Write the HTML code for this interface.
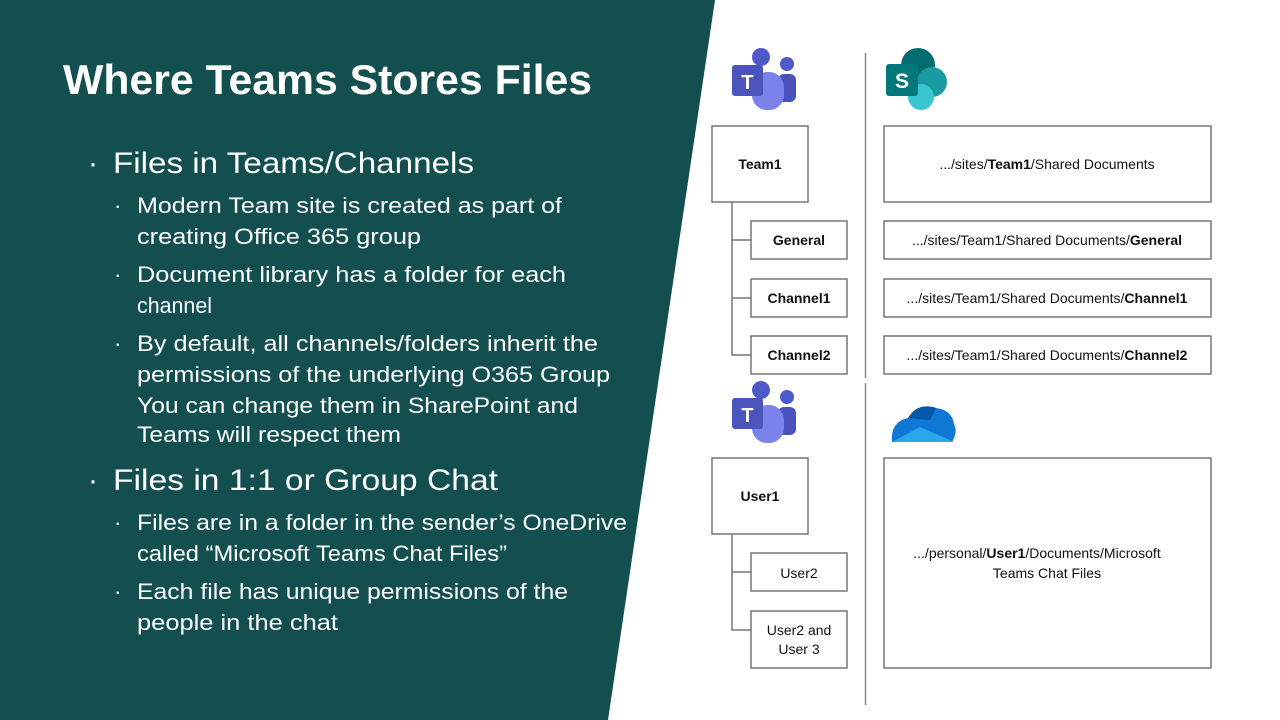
<!DOCTYPE html>
<html><head><meta charset="utf-8"><style>html,body{margin:0;padding:0;background:#fff}svg{display:block}</style></head><body>
<svg width="1280" height="720" viewBox="0 0 1280 720" xmlns="http://www.w3.org/2000/svg" font-family="Liberation Sans, sans-serif">
<rect width="1280" height="720" fill="#fff"/>
<polygon points="0,0 715,0 608,720 0,720" fill="#134f4f"/>
<g fill="#fff">
<text x="63" y="94" font-size="42" font-weight="bold" textLength="529" lengthAdjust="spacingAndGlyphs">Where Teams Stores Files</text>
<text x="88" y="173" font-size="30">·</text>
<text x="113" y="173" font-size="30" textLength="361" lengthAdjust="spacingAndGlyphs">Files in Teams/Channels</text>
<g font-size="22">
<text x="114" y="213">·</text>
<text x="137" y="213" textLength="425" lengthAdjust="spacingAndGlyphs">Modern Team site is created as part of</text>
<text x="137" y="244" textLength="284" lengthAdjust="spacingAndGlyphs">creating Office 365 group</text>
<text x="114" y="282">·</text>
<text x="137" y="282" textLength="429" lengthAdjust="spacingAndGlyphs">Document library has a folder for each</text>
<text x="137" y="313" textLength="75" lengthAdjust="spacingAndGlyphs">channel</text>
<text x="114" y="351">·</text>
<text x="137" y="351" textLength="461" lengthAdjust="spacingAndGlyphs">By default, all channels/folders inherit the</text>
<text x="137" y="382" textLength="473" lengthAdjust="spacingAndGlyphs">permissions of the underlying O365 Group</text>
<text x="137" y="413" textLength="441" lengthAdjust="spacingAndGlyphs">You can change them in SharePoint and</text>
<text x="137" y="442" textLength="264" lengthAdjust="spacingAndGlyphs">Teams will respect them</text>
</g>
<text x="88" y="490" font-size="30">·</text>
<text x="113" y="490" font-size="30" textLength="385" lengthAdjust="spacingAndGlyphs">Files in 1:1 or Group Chat</text>
<g font-size="22">
<text x="114" y="530">·</text>
<text x="137" y="530" textLength="490" lengthAdjust="spacingAndGlyphs">Files are in a folder in the sender’s OneDrive</text>
<text x="137" y="561" textLength="370" lengthAdjust="spacingAndGlyphs">called “Microsoft Teams Chat Files”</text>
<text x="114" y="599">·</text>
<text x="137" y="599" textLength="431" lengthAdjust="spacingAndGlyphs">Each file has unique permissions of the</text>
<text x="137" y="630" textLength="201" lengthAdjust="spacingAndGlyphs">people in the chat</text>
</g>
</g>
<!-- divider -->
<line x1="865.5" y1="53" x2="865.5" y2="378" stroke="#888" stroke-width="1.5"/>
<line x1="865.5" y1="383" x2="865.5" y2="705" stroke="#888" stroke-width="1.5"/>
<!-- teams icons -->
<g id="t1">
<circle cx="761" cy="57" r="9" fill="#5059c9"/>
<circle cx="787" cy="64" r="7" fill="#5059c9"/>
<rect x="778" y="74" width="18" height="28" rx="6" fill="#4a52c0"/>
<rect x="752" y="72" width="32" height="38" rx="15" fill="#7b83eb"/>
<rect x="732" y="65" width="31" height="31" rx="3" fill="#4b53bc"/>
<text x="747.5" y="89" font-size="20" font-weight="bold" fill="#fff" text-anchor="middle">T</text>
</g>
<g transform="translate(0,333)">
<circle cx="761" cy="57" r="9" fill="#5059c9"/>
<circle cx="787" cy="64" r="7" fill="#5059c9"/>
<rect x="778" y="74" width="18" height="28" rx="6" fill="#4a52c0"/>
<rect x="752" y="72" width="32" height="38" rx="15" fill="#7b83eb"/>
<rect x="732" y="65" width="31" height="31" rx="3" fill="#4b53bc"/>
<text x="747.5" y="89" font-size="20" font-weight="bold" fill="#fff" text-anchor="middle">T</text>
</g>
<!-- sharepoint -->
<circle cx="918" cy="65" r="17" fill="#036c70"/>
<circle cx="932" cy="82" r="15" fill="#1a9ba1"/>
<circle cx="921" cy="97" r="13" fill="#37c6d0"/>
<rect x="886" y="64" width="32" height="32" rx="3" fill="#03787c"/>
<text x="902" y="88" font-size="21" font-weight="bold" fill="#fff" text-anchor="middle">S</text>
<!-- onedrive -->
<path d="M892 442 Q890 422 908 418 Q918 402 936 408 Q952 410 954 424 Q958 432 952 442 Z" fill="#0f78d4"/>
<path d="M892 442 L920 427 L954 442 Z" fill="#28a8ea"/>
<path d="M908 418 Q918 402 936 408 L930 420 Z" fill="#0358a7"/>
<!-- boxes -->
<g fill="none" stroke="#777" stroke-width="1.5">
<rect x="712" y="126" width="96" height="76"/>
<rect x="751" y="221" width="96" height="38"/>
<rect x="751" y="279" width="96" height="38"/>
<rect x="751" y="336" width="96" height="38"/>
<polyline points="732,202 732,355 751,355"/>
<line x1="732" y1="240" x2="751" y2="240"/>
<line x1="732" y1="298" x2="751" y2="298"/>
<rect x="884" y="126" width="327" height="76"/>
<rect x="884" y="221" width="327" height="38"/>
<rect x="884" y="279" width="327" height="38"/>
<rect x="884" y="336" width="327" height="38"/>
<rect x="712" y="458" width="96" height="76"/>
<rect x="751" y="553" width="96" height="38"/>
<rect x="751" y="611" width="96" height="57"/>
<polyline points="732,534 732,630 751,630"/>
<line x1="732" y1="572" x2="751" y2="572"/>
<rect x="884" y="458" width="327" height="210"/>
</g>
<g font-size="14" fill="#111" text-anchor="middle">
<text x="760" y="169" font-weight="bold">Team1</text>
<text x="799" y="245" font-weight="bold">General</text>
<text x="799" y="303" font-weight="bold">Channel1</text>
<text x="799" y="360" font-weight="bold">Channel2</text>
<text x="1047" y="169">.../sites/<tspan font-weight="bold">Team1</tspan>/Shared Documents</text>
<text x="1047" y="245">.../sites/Team1/Shared Documents/<tspan font-weight="bold">General</tspan></text>
<text x="1047" y="303">.../sites/Team1/Shared Documents/<tspan font-weight="bold">Channel1</tspan></text>
<text x="1047" y="360">.../sites/Team1/Shared Documents/<tspan font-weight="bold">Channel2</tspan></text>
<text x="760" y="501" font-weight="bold">User1</text>
<text x="799" y="578">User2</text>
<text x="799" y="635">User2 and</text>
<text x="799" y="654">User 3</text>
<text x="1037" y="558">.../personal/<tspan font-weight="bold">User1</tspan>/Documents/Microsoft</text>
<text x="1047" y="578">Teams Chat Files</text>
</g>
</svg>
</body></html>
